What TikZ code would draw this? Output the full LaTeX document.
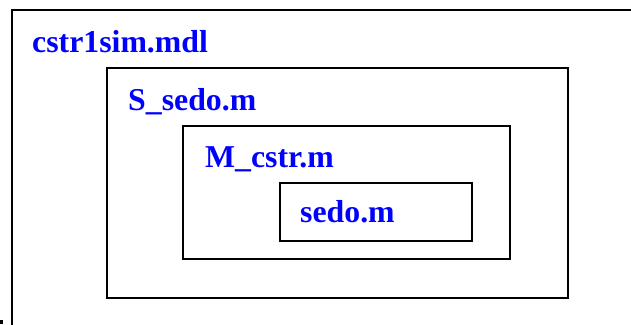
\documentclass[tikz,border=0pt]{standalone}
\usepackage{fontspec}
\setmainfont{Liberation Serif}
\definecolor{fblue}{RGB}{0,0,255}
\begin{document}
\begin{tikzpicture}[x=1pt,y=-1pt,
  box/.style={draw=black,line width=1.6pt},
  lbl/.style={anchor=base west,inner sep=0pt,text=fblue,font=\fontsize{31.8}{38}\selectfont\bfseries}]
\useasboundingbox (0,0) rectangle (631,324);
\clip (0,0) rectangle (631,324);
\draw[box] (12,10) rectangle (660,360);
\draw[box] (107,68) rectangle (568,298);
\draw[box] (183,126) rectangle (510,259);
\draw[box] (280,183) rectangle (472,241);
\fill[black] (0,320) rectangle (3,324);
\node[lbl] (t1) at (32,52) {cstr1sim.mdl};
\node[lbl] (t2) at (128,110) {S\_sedo.m};
\node[lbl] (t3) at (205,167) {M\_cstr.m};
\node[lbl] (t4) at (300,222) {sedo.m};
\end{tikzpicture}
\end{document}
